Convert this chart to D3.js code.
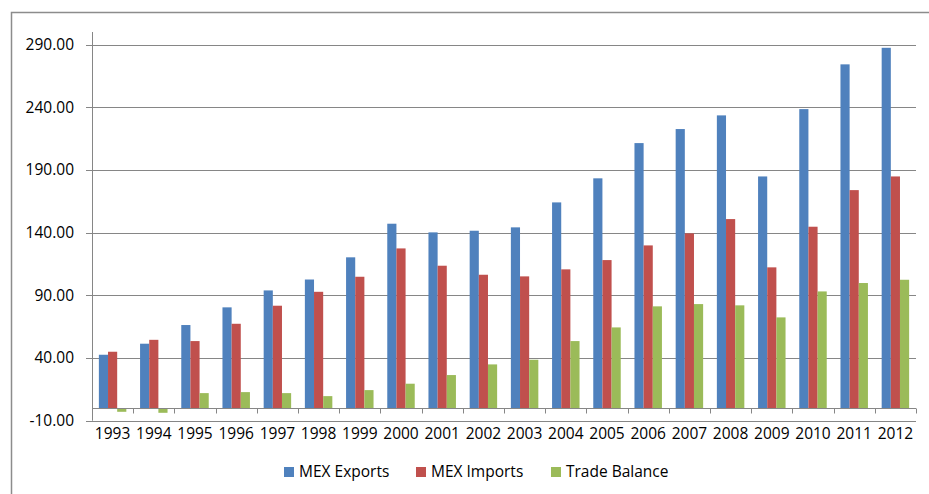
<!DOCTYPE html>
<html>
<head>
<meta charset="utf-8">
<script src="https://cdn.jsdelivr.net/npm/d3@7"></script>
<style>
  html, body { margin: 0; padding: 0; background: #fff; }
  svg { display: block; font-family: "Open Sans", sans-serif; }
</style>
</head>
<body>
<svg id="chart" width="929" height="494"></svg>
<script>
const years = ["1993","1994","1995","1996","1997","1998","1999","2000","2001","2002","2003","2004","2005","2006","2007","2008","2009","2010","2011","2012"];
const exportsMX = [42.6, 51.4, 66.3, 80.4, 93.9, 102.6, 120.3, 147.1, 140.2, 141.5, 144.2, 164.1, 183.3, 211.4, 222.6, 233.5, 184.8, 238.5, 274.2, 287.4];
const importsMX = [45.0, 54.5, 53.5, 67.3, 81.7, 92.8, 104.8, 127.4, 113.6, 106.4, 105.1, 110.7, 118.1, 129.8, 139.4, 150.8, 112.3, 144.7, 173.9, 184.8];
const balanceMX = [-2.9, -3.7, 12.0, 12.8, 12.0, 9.6, 14.4, 19.5, 26.4, 34.9, 38.6, 53.5, 64.4, 81.2, 83.0, 82.0, 72.4, 93.1, 99.8, 102.4];
const seriesNames = ["MEX Exports", "MEX Imports", "Trade Balance"];
const seriesColors = ["#4F81BD", "#C0504D", "#9BBB59"];
const yTicks = [-10, 40, 90, 140, 190, 240, 290];

(function () {
const series = [exportsMX, importsMX, balanceMX];
const svg = d3.select("#chart");
const gridColor = "#868686";
const fontSize = "15.5px";

// outer frame (cropped at right/bottom)
svg.append("path")
  .attr("d", "M11.5,500 L11.5,12.5 L935,12.5")
  .attr("fill", "none").attr("stroke", "#8c8c8c").attr("stroke-width", 1.5);

const pLeft = 92, pRight = 916, pTop = 32, pBottom = 420.7;
const x = d3.scaleBand().domain(years).range([pLeft, pRight]).paddingInner(0).paddingOuter(0);
const y = d3.scaleLinear().domain([-10, 300]).range([pBottom, pTop]);
// group width = 3w + 1.5w gap
const bw = x.bandwidth() / 4.5;
const off = x.bandwidth() * 0.75 / 4.5;

// gridlines
svg.append("g").selectAll("line").data(yTicks).join("line")
  .attr("x1", pLeft - 6).attr("x2", pRight)
  .attr("y1", d => Math.round(y(d)) + 0.5).attr("y2", d => Math.round(y(d)) + 0.5)
  .attr("stroke", gridColor).attr("stroke-width", 1);

// y labels
svg.append("g").selectAll("text").data(yTicks).join("text")
  .attr("x", 74).attr("y", d => y(d))
  .attr("dy", "0.35em")
  .attr("text-anchor", "end")
  .attr("font-size", fontSize).attr("fill", "#000")
  .text(d => d.toFixed(2));

// bars
years.forEach((yr, i) => {
  series.forEach((s, j) => {
    const v = s[i];
    svg.append("rect")
      .attr("x", x(yr) + off + j * bw)
      .attr("width", bw)
      .attr("y", Math.min(y(v), y(0)))
      .attr("height", Math.abs(y(v) - y(0)))
      .attr("fill", seriesColors[j]);
  });
});

// y axis line
svg.append("line")
  .attr("x1", pLeft + 0.5).attr("x2", pLeft + 0.5)
  .attr("y1", pTop).attr("y2", pBottom)
  .attr("stroke", gridColor).attr("stroke-width", 1);

// category axis at zero
const y0 = Math.round(y(0)) + 0.5;
svg.append("line")
  .attr("x1", pLeft).attr("x2", pRight)
  .attr("y1", y0).attr("y2", y0)
  .attr("stroke", gridColor).attr("stroke-width", 1);
const tickX = years.map(d => x(d)).concat([pRight]);
svg.append("g").selectAll("line").data(tickX).join("line")
  .attr("x1", d => Math.round(d) + 0.5).attr("x2", d => Math.round(d) + 0.5)
  .attr("y1", y0).attr("y2", y0 + 5)
  .attr("stroke", gridColor).attr("stroke-width", 1);

// x labels
svg.append("g").selectAll("text").data(years).join("text")
  .attr("x", d => x(d) + x.bandwidth() / 2)
  .attr("y", 438.5)
  .attr("text-anchor", "middle")
  .attr("font-size", fontSize).attr("fill", "#000")
  .text(d => d);

// legend
const legendX = [284, 416, 551];
const lg = svg.append("g");
seriesNames.forEach((n, j) => {
  lg.append("rect").attr("x", legendX[j]).attr("y", 467).attr("width", 10).attr("height", 10)
    .attr("fill", seriesColors[j]);
  lg.append("text").attr("x", legendX[j] + 15).attr("y", 476.5)
    .attr("font-size", fontSize).attr("fill", "#000").text(n);
});
})();
</script>
</body>
</html>
